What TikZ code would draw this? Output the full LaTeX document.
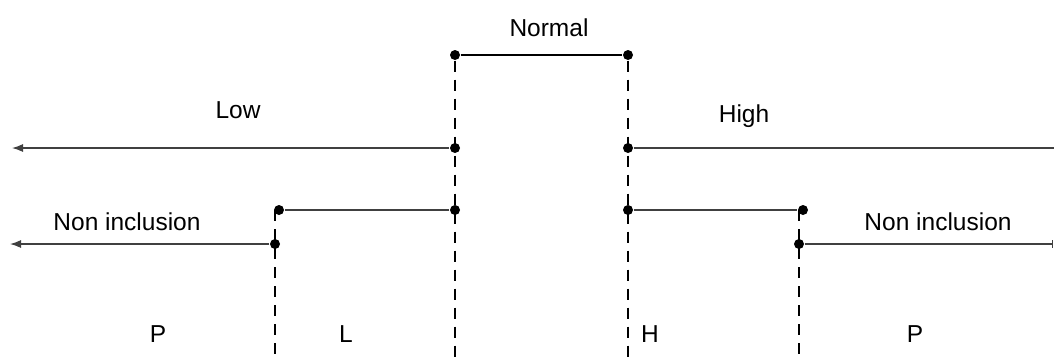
\documentclass[tikz,border=0pt]{standalone}
\usepackage{fontspec}
\setmainfont{Liberation Sans}
\usetikzlibrary{arrows.meta}
\begin{document}
\begin{tikzpicture}[x=1pt,y=-1pt,
  line width=1.2pt,
  dot/.style={circle,fill=black,inner sep=0pt,minimum size=10pt},
  lbl/.style={font=\fontsize{24.5}{28}\selectfont,inner sep=0pt},
  bound/.style={dash pattern=on 11pt off 8pt},
  level/.style={draw=black!75},
  tip/.style={-{Latex[length=11pt,width=8pt]}}]
\useasboundingbox (0,0) rectangle (1054,360);

% threshold points
\node[dot] (nl) at (455,55) {};
\node[dot] (nr) at (628,55) {};
\node[dot] (ll) at (455,148) {};
\node[dot] (hl) at (628,148) {};
\node[dot] (la) at (455,210) {};
\node[dot] (lb) at (279,210) {};
\node[dot] (ha) at (628,210) {};
\node[dot] (hb) at (803,210) {};
\node[dot] (pl) at (275,244) {};
\node[dot] (pr) at (799,244) {};

\coordinate (lowend) at (12,148);
\coordinate (highend) at (1054,148);
\coordinate (pleft) at (10,244);
\coordinate (pright) at (1053,244);
\coordinate (bl1) at (455,360);
\coordinate (br1) at (628,360);
\coordinate (bl2) at (275,360);
\coordinate (br2) at (799,360);
\coordinate (tl2) at (275,210);
\coordinate (tr2) at (799,210);

% dashed boundaries
\draw[bound] (nl) -- (bl1);
\draw[bound] (nr) -- (br1);
\draw[bound] (tl2) -- (bl2);
\draw[bound] (tr2) -- (br2);

% level lines
\draw (nl) -- (nr);
\draw[level,tip] (ll) -- (lowend);
\draw[level] (hl) -- (highend);
\draw[level] (la) -- (lb);
\draw[level] (ha) -- (hb);
\draw[level,tip] (pl) -- (pleft);
\draw[level,-{Bar[width=8pt]}] (pr) -- (pright);

% labels
\node[lbl] (tnormal) at (549,28) {Normal};
\node[lbl] (tlow) at (238,110) {Low};
\node[lbl] (thigh) at (744,116) {High};
\node[lbl] (tnl) at (127,222) {Non inclusion};
\node[lbl] (tnr) at (938,222) {Non inclusion};
\node[lbl] (tp1) at (158,334) {P};
\node[lbl] (tl) at (346,334) {L};
\node[lbl] (th) at (650,334) {H};
\node[lbl] (tp2) at (915,334) {P};
\end{tikzpicture}
\end{document}
